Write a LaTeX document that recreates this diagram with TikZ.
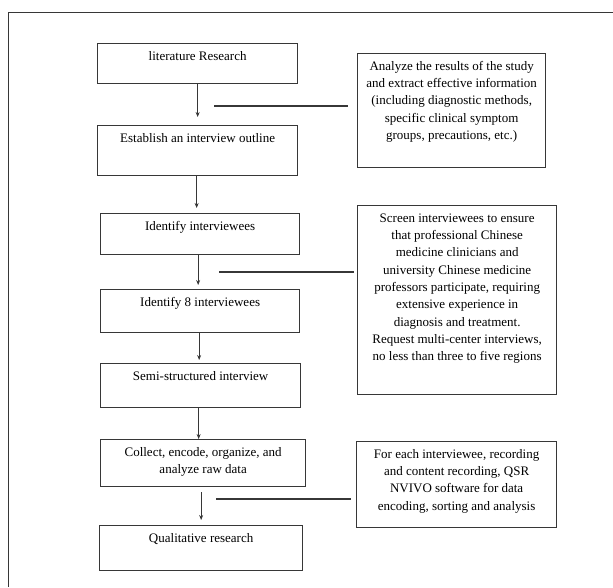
\documentclass[tikz,border=0pt]{standalone}
\usepackage{fontspec}
\setmainfont{Liberation Serif}
\usetikzlibrary{arrows.meta}
\definecolor{ln}{RGB}{55,55,55}
\newcommand\topbox[3]{\parbox[c][#2pt][t]{#1pt}{\centering\vspace*{4.5pt}\strut #3\par}}
\begin{document}
\begin{tikzpicture}[x=1pt,y=-1pt,
 box/.style={draw=ln, line width=1.3pt, inner sep=0pt, anchor=north west, font=\fontsize{13}{17.3}\selectfont},
 arr/.style={draw=ln, line width=1.1pt, -{Stealth[length=5pt,width=4pt]}},
 link/.style={draw=ln, line width=1.3pt}]
\useasboundingbox (0,0) rectangle (613,587);
\coordinate (fl) at (8.5,587);
\coordinate (fc) at (8.5,12.5);
\coordinate (fr) at (613,12.5);
\draw[link, line width=1.5pt] (fl) -- (fc) -- (fr);

\node[box] (b1) at (97,43) {\topbox{200}{40}{literature Research}};
\node[box] (b2) at (97,125) {\topbox{200}{50}{Establish an interview outline}};
\node[box] (b3) at (100,213) {\topbox{199}{41}{Identify interviewees}};
\node[box] (b4) at (100,289) {\topbox{199}{43}{Identify 8 interviewees}};
\node[box] (b5) at (100,363) {\topbox{200}{44}{Semi-structured interview}};
\node[box] (b6) at (100,439) {\topbox{205}{47}{Collect, encode, organize, and\\analyze raw data}};
\node[box] (b7) at (99,525) {\topbox{203}{45}{Qualitative research}};

\node[box] (r1) at (357,53) {\topbox{188}{114}{Analyze the results of the study\\and extract effective information\\(including diagnostic methods,\\specific clinical symptom\\groups, precautions, etc.)}};
\node[box] (r2) at (357,205) {\topbox{199}{189}{Screen interviewees to ensure\\that professional Chinese\\medicine clinicians and\\university Chinese medicine\\professors participate, requiring\\extensive experience in\\diagnosis and treatment.\\Request multi-center interviews,\\no less than three to five regions}};
\node[box] (r3) at (356,441) {\topbox{200}{86}{For each interviewee, recording\\and content recording, QSR\\NVIVO software for data\\encoding, sorting and analysis}};

\draw[arr, shorten >=8pt] (b1.south) -- (b1.south |- b2.north);
\draw[arr, shorten >=5pt] ([xshift=-1pt]b2.south) -- ([xshift=-1pt]b2.south |- b3.north);
\draw[arr, shorten >=4pt] ([xshift=-2pt]b3.south) -- ([xshift=-2pt]b3.south |- b4.north);
\draw[arr, shorten >=3pt] ([xshift=-1pt]b4.south) -- ([xshift=-1pt]b4.south |- b5.north);
\draw[arr] ([xshift=-2pt]b5.south) -- ([xshift=-2pt]b5.south |- b6.north);
\draw[arr, shorten <=5pt, shorten >=5pt] ([xshift=-2pt]b6.south) -- ([xshift=-2pt]b6.south |- b7.north);

\coordinate (l1) at (214,106);
\coordinate (l2) at (219,272);
\coordinate (l3) at (216,499);
\draw[link, shorten >=9pt] (l1) -- (l1 -| r1.west);
\draw[link, shorten >=3pt] (l2) -- (l2 -| r2.west);
\draw[link, shorten >=5pt] (l3) -- (l3 -| r3.west);
\end{tikzpicture}
\end{document}
